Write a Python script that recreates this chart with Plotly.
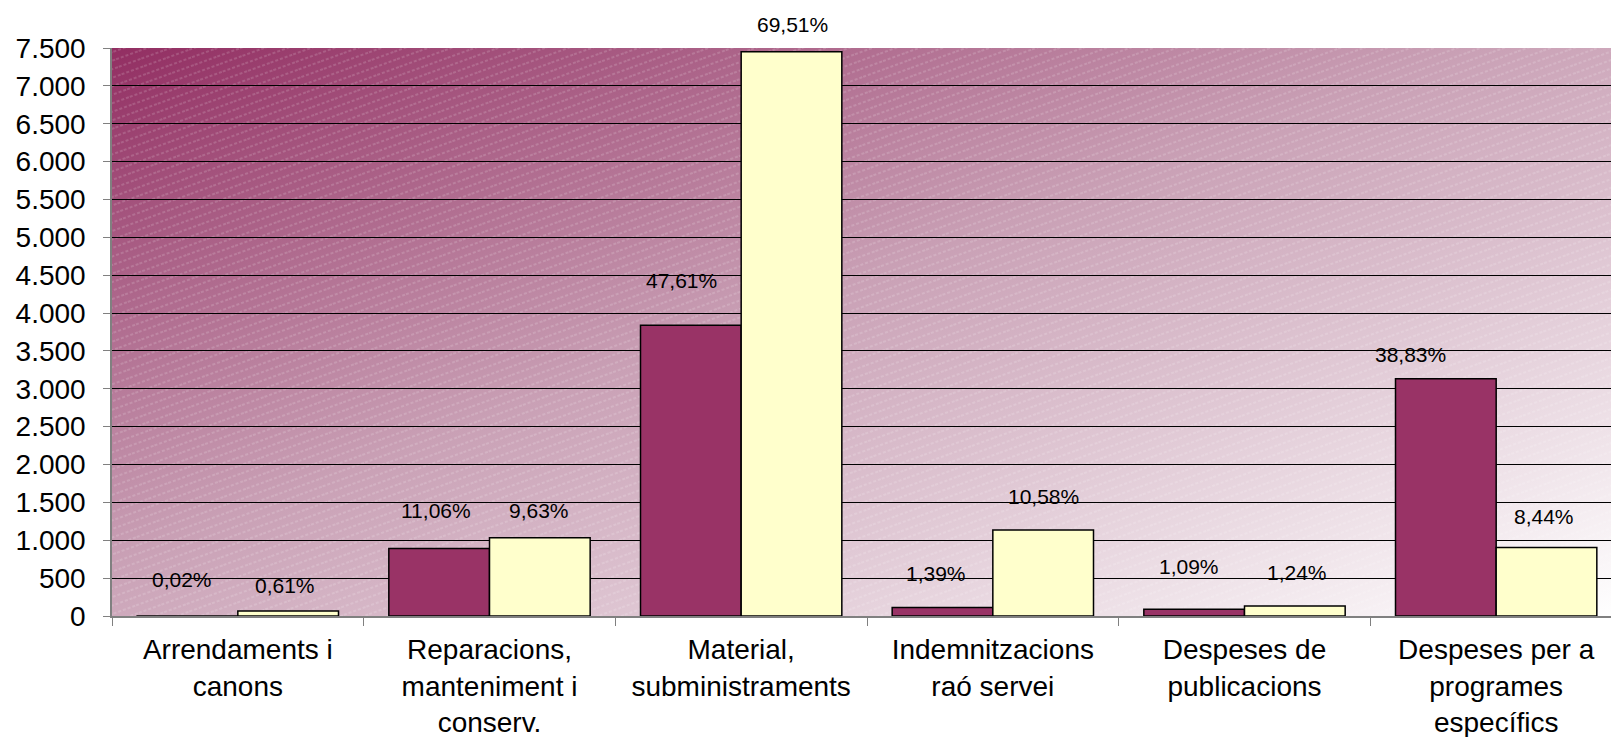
import base64
import plotly.graph_objects as go

categories = [
    "Arrendaments i<br>canons",
    "Reparacions,<br>manteniment i<br>conserv.",
    "Material,<br>subministraments",
    "Indemnitzacions<br>raó servei",
    "Despeses de<br>publicacions",
    "Despeses per a<br>programes<br>específics",
]
series_a = [1.6, 892, 3840, 112, 88, 3132]
series_b = [65, 1032, 7450, 1134, 133, 905]
labels_a = ["0,02%", "11,06%", "47,61%", "1,39%", "1,09%", "38,83%"]
labels_b = ["0,61%", "9,63%", "69,51%", "10,58%", "1,24%", "8,44%"]
y_ticks = list(range(0, 7501, 500))

# label placement (style): pixel shifts from bar top
yshift_a = [36, 38, 45, 34, 43, 24]
yshift_b = [26, 27, 27, 34, 33, 31]
xshift_a = [-6, -3, -9, -7, -5, -35]
xshift_b = [-3, -1, 1, 0, 2, -3]

FONT = "Liberation Sans, Arial, sans-serif"
PURPLE = "#993366"
YELLOW = "#FFFFCC"

W, H = 1510, 568
svg = f'''<svg xmlns="http://www.w3.org/2000/svg" width="{W}" height="{H}" viewBox="0 0 {W} {H}" preserveAspectRatio="none">
<defs>
<linearGradient id="g" x1="0" y1="0" x2="1" y2="1">
<stop offset="0" stop-color="#922E62"/>
<stop offset="0.45" stop-color="#C9A0B5"/>
<stop offset="1" stop-color="#FFFFFF"/>
</linearGradient>
<pattern id="p" width="24" height="8" patternUnits="userSpaceOnUse" patternTransform="rotate(-20)">
<line x1="0" y1="4" x2="24" y2="4" stroke="#ffffff" stroke-opacity="0.3" stroke-width="1" stroke-dasharray="3 2"/>
</pattern>
</defs>
<rect width="{W}" height="{H}" fill="url(#g)"/>
<rect width="{W}" height="{H}" fill="url(#p)"/>
</svg>'''
src = "data:image/svg+xml;base64," + base64.b64encode(svg.encode()).decode()

fig = go.Figure()
fig.add_trace(go.Bar(x=categories, y=series_a, marker=dict(color=PURPLE, line=dict(color="black", width=1.5)),
                     showlegend=False, hoverinfo="skip"))
fig.add_trace(go.Bar(x=categories, y=series_b, marker=dict(color=YELLOW, line=dict(color="black", width=1.5)),
                     showlegend=False, hoverinfo="skip"))

annotations = []
for i in range(len(categories)):
    annotations.append(dict(x=i - 0.2, y=series_a[i], xref="x", yref="y", text=labels_a[i], showarrow=False,
                            yshift=yshift_a[i], xshift=xshift_a[i], yanchor="middle",
                            font=dict(family=FONT, size=21, color="black")))
    annotations.append(dict(x=i + 0.2, y=series_b[i], xref="x", yref="y", text=labels_b[i], showarrow=False,
                            yshift=yshift_b[i], xshift=xshift_b[i], yanchor="middle",
                            font=dict(family=FONT, size=21, color="black")))

fig.update_layout(
    width=1619, height=737,
    margin=dict(l=104, r=5, t=40, b=129),
    paper_bgcolor="white",
    plot_bgcolor="rgba(0,0,0,0)",
    barmode="group", bargap=0.2, bargroupgap=0,
    separators=",.",
    font=dict(family=FONT, size=28, color="black"),
    annotations=annotations,
    images=[dict(source=src, xref="paper", yref="paper", x=0, y=1, sizex=1, sizey=1,
                 xanchor="left", yanchor="top", sizing="stretch", layer="below")],
    xaxis=dict(type="category", tickson="boundaries", ticks="outside", ticklen=8, tickcolor="#808080",
               showline=True, linecolor="#808080", linewidth=1.5, showgrid=False, automargin=False,
               tickfont=dict(family=FONT, size=28, color="black"), ticklabelstandoff=8),
    yaxis=dict(range=[0, 7500], tickvals=y_ticks, tickformat=",d", ticks="outside", ticklen=7,
               tickcolor="#808080", showline=True, linecolor="#808080", linewidth=1.5, automargin=False,
               showgrid=True, gridcolor="black", gridwidth=1, zeroline=False,
               tickfont=dict(family=FONT, size=28, color="black"), ticklabelstandoff=12),
)
fig.write_html("out.html")
